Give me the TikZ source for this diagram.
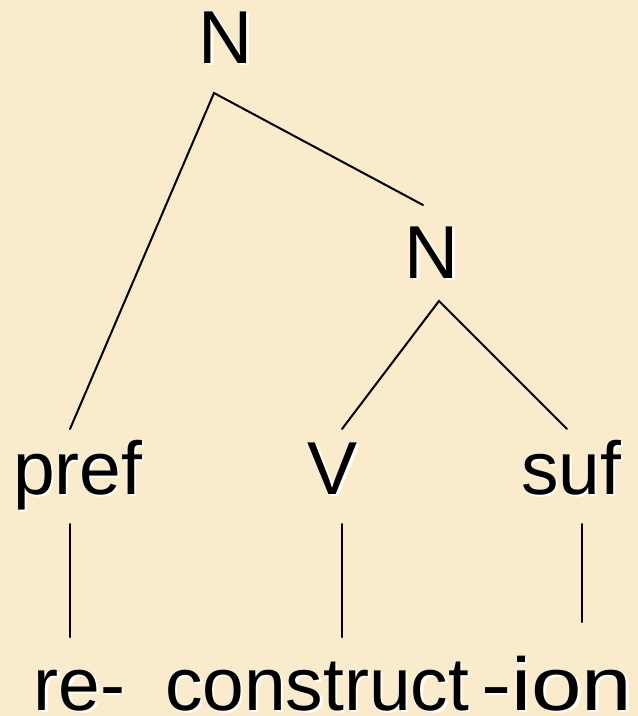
\documentclass[tikz,border=0pt]{standalone}
\usepackage{fontspec}
\setmainfont{Liberation Sans}
\usetikzlibrary{calc}
\definecolor{parch}{HTML}{F9EBCB}
\newcommand{\shadowed}[1]{\rlap{\kern2.2pt\raisebox{-2.2pt}{\textcolor{white}{#1}}}#1}
\tikzset{
  lbl/.style={inner sep=0pt, outer sep=0pt, font=\fontsize{75}{80}\selectfont, text=black},
  branch/.style={line width=2pt, black, line cap=round}
}
\begin{document}
\begin{tikzpicture}[x=1pt,y=-1pt]
\fill[parch] (0,0) rectangle (638,716);
\useasboundingbox (0,0) rectangle (638,716);
% labels
\node[lbl, anchor=base] (N1) at (226,63) {\shadowed{N}};
\node[lbl, anchor=base] (N2) at (432,278) {\shadowed{N}};
\node[lbl, anchor=base west] (pref) at (13,494) {\shadowed{pref}};
\node[lbl, anchor=base] (V) at (333,494) {\shadowed{V}};
\node[lbl, anchor=base west] (suf) at (521,494) {\shadowed{suf}};
\node[lbl, anchor=base west] (re) at (34,710) {\shadowed{re-}};
\node[lbl, anchor=base west] (con) at (165,710) {\shadowed{construct}};
\node[lbl, anchor=base west, xscale=1.21] (ion) at (481,710) {\shadowed{-ion}};
% connector endpoints
\coordinate (N1b) at (214,93);
\coordinate (preft) at (70,429);
\coordinate (N2t) at (423,205);
\coordinate (N2b) at (439,301);
\coordinate (Vt) at (342,429);
\coordinate (suft) at (567,429);
\coordinate (prefb) at (70,524);
\coordinate (ret) at (70,637);
\coordinate (Vb) at (342,524);
\coordinate (cont) at (342,637);
\coordinate (sufb) at (582,524);
\coordinate (iont) at (582,622);
\draw[branch] (preft) -- (N1b) -- (N2t);
\draw[branch] (Vt) -- (N2b) -- (suft);
\draw[branch] (prefb) -- (ret);
\draw[branch] (Vb) -- (cont);
\draw[branch] (sufb) -- (iont);
\end{tikzpicture}
\end{document}
